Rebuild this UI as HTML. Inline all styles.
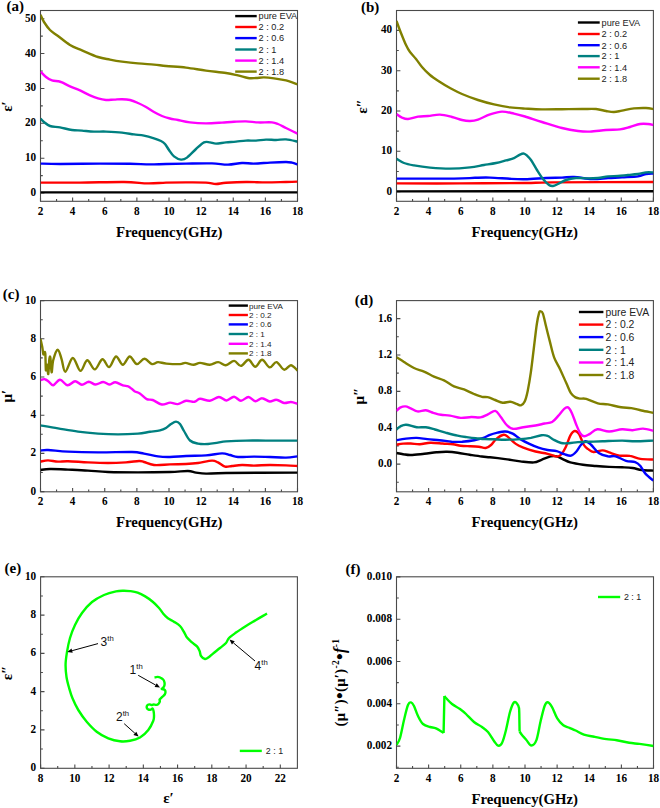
<!DOCTYPE html>
<html><head><meta charset="utf-8"><style>
html,body{margin:0;padding:0;background:#fff;}
svg{display:block;}
.tk{font-family:"Liberation Serif", serif;font-weight:bold;font-size:12.2px;fill:#000;}
.pl{font-family:"Liberation Serif", serif;font-weight:bold;fill:#000;}
.ax{font-family:"Liberation Serif", serif;font-weight:bold;font-size:14.8px;fill:#000;}
.lg{font-family:"Liberation Sans", sans-serif;fill:#222;}
.yl{font-family:"Liberation Serif", serif;font-weight:bold;fill:#000;}
.an{font-family:"Liberation Sans", sans-serif;fill:#111;}
</style></head>
<body><svg width="660" height="808" viewBox="0 0 660 808">
<rect x="40.5" y="10.5" width="257.00" height="190.80" fill="none" stroke="#4a4a4a" stroke-width="1.1"/>
<text transform="translate(40.50 214.50) scale(0.92,1)" text-anchor="middle" class="tk">2</text>
<text transform="translate(72.62 214.50) scale(0.92,1)" text-anchor="middle" class="tk">4</text>
<text transform="translate(104.75 214.50) scale(0.92,1)" text-anchor="middle" class="tk">6</text>
<text transform="translate(136.88 214.50) scale(0.92,1)" text-anchor="middle" class="tk">8</text>
<text transform="translate(169.00 214.50) scale(0.92,1)" text-anchor="middle" class="tk">10</text>
<text transform="translate(201.12 214.50) scale(0.92,1)" text-anchor="middle" class="tk">12</text>
<text transform="translate(233.25 214.50) scale(0.92,1)" text-anchor="middle" class="tk">14</text>
<text transform="translate(265.38 214.50) scale(0.92,1)" text-anchor="middle" class="tk">16</text>
<text transform="translate(297.50 214.50) scale(0.92,1)" text-anchor="middle" class="tk">18</text>
<text transform="translate(36.10 196.07) scale(0.92,1)" text-anchor="end" class="tk">0</text>
<text transform="translate(36.10 161.20) scale(0.92,1)" text-anchor="end" class="tk">10</text>
<text transform="translate(36.10 126.32) scale(0.92,1)" text-anchor="end" class="tk">20</text>
<text transform="translate(36.10 91.45) scale(0.92,1)" text-anchor="end" class="tk">30</text>
<text transform="translate(36.10 56.57) scale(0.92,1)" text-anchor="end" class="tk">40</text>
<text transform="translate(36.10 21.70) scale(0.92,1)" text-anchor="end" class="tk">50</text>
<path d="M40.50 201.3v-3.9 M56.56 201.3v-2.3 M72.62 201.3v-3.9 M88.69 201.3v-2.3 M104.75 201.3v-3.9 M120.81 201.3v-2.3 M136.88 201.3v-3.9 M152.94 201.3v-2.3 M169.00 201.3v-3.9 M185.06 201.3v-2.3 M201.12 201.3v-3.9 M217.19 201.3v-2.3 M233.25 201.3v-3.9 M249.31 201.3v-2.3 M265.38 201.3v-3.9 M281.44 201.3v-2.3 M297.50 201.3v-3.9 M40.5 193.07h3.9 M40.5 175.64h2.3 M40.5 158.20h3.9 M40.5 140.76h2.3 M40.5 123.32h3.9 M40.5 105.89h2.3 M40.5 88.45h3.9 M40.5 71.01h2.3 M40.5 53.57h3.9 M40.5 36.14h2.3 M40.5 18.70h3.9" stroke="#4a4a4a" stroke-width="1.1" fill="none"/>
<rect x="396.5" y="10.5" width="256.90" height="190.80" fill="none" stroke="#4a4a4a" stroke-width="1.1"/>
<text transform="translate(396.50 214.50) scale(0.92,1)" text-anchor="middle" class="tk">2</text>
<text transform="translate(428.61 214.50) scale(0.92,1)" text-anchor="middle" class="tk">4</text>
<text transform="translate(460.73 214.50) scale(0.92,1)" text-anchor="middle" class="tk">6</text>
<text transform="translate(492.84 214.50) scale(0.92,1)" text-anchor="middle" class="tk">8</text>
<text transform="translate(524.95 214.50) scale(0.92,1)" text-anchor="middle" class="tk">10</text>
<text transform="translate(557.06 214.50) scale(0.92,1)" text-anchor="middle" class="tk">12</text>
<text transform="translate(589.17 214.50) scale(0.92,1)" text-anchor="middle" class="tk">14</text>
<text transform="translate(621.29 214.50) scale(0.92,1)" text-anchor="middle" class="tk">16</text>
<text transform="translate(653.40 214.50) scale(0.92,1)" text-anchor="middle" class="tk">18</text>
<text transform="translate(392.10 194.60) scale(0.92,1)" text-anchor="end" class="tk">0</text>
<text transform="translate(392.10 154.30) scale(0.92,1)" text-anchor="end" class="tk">10</text>
<text transform="translate(392.10 114.00) scale(0.92,1)" text-anchor="end" class="tk">20</text>
<text transform="translate(392.10 73.70) scale(0.92,1)" text-anchor="end" class="tk">30</text>
<text transform="translate(392.10 33.40) scale(0.92,1)" text-anchor="end" class="tk">40</text>
<path d="M396.50 201.3v-3.9 M412.56 201.3v-2.3 M428.61 201.3v-3.9 M444.67 201.3v-2.3 M460.73 201.3v-3.9 M476.78 201.3v-2.3 M492.84 201.3v-3.9 M508.89 201.3v-2.3 M524.95 201.3v-3.9 M541.01 201.3v-2.3 M557.06 201.3v-3.9 M573.12 201.3v-2.3 M589.17 201.3v-3.9 M605.23 201.3v-2.3 M621.29 201.3v-3.9 M637.34 201.3v-2.3 M653.40 201.3v-3.9 M396.5 191.60h3.9 M396.5 171.45h2.3 M396.5 151.30h3.9 M396.5 131.15h2.3 M396.5 111.00h3.9 M396.5 90.85h2.3 M396.5 70.70h3.9 M396.5 50.55h2.3 M396.5 30.40h3.9" stroke="#4a4a4a" stroke-width="1.1" fill="none"/>
<rect x="40.5" y="300.6" width="257.00" height="191.20" fill="none" stroke="#4a4a4a" stroke-width="1.1"/>
<text transform="translate(40.50 505.00) scale(0.92,1)" text-anchor="middle" class="tk">2</text>
<text transform="translate(72.62 505.00) scale(0.92,1)" text-anchor="middle" class="tk">4</text>
<text transform="translate(104.75 505.00) scale(0.92,1)" text-anchor="middle" class="tk">6</text>
<text transform="translate(136.88 505.00) scale(0.92,1)" text-anchor="middle" class="tk">8</text>
<text transform="translate(169.00 505.00) scale(0.92,1)" text-anchor="middle" class="tk">10</text>
<text transform="translate(201.12 505.00) scale(0.92,1)" text-anchor="middle" class="tk">12</text>
<text transform="translate(233.25 505.00) scale(0.92,1)" text-anchor="middle" class="tk">14</text>
<text transform="translate(265.38 505.00) scale(0.92,1)" text-anchor="middle" class="tk">16</text>
<text transform="translate(297.50 505.00) scale(0.92,1)" text-anchor="middle" class="tk">18</text>
<text transform="translate(36.10 494.60) scale(0.92,1)" text-anchor="end" class="tk">0</text>
<text transform="translate(36.10 456.40) scale(0.92,1)" text-anchor="end" class="tk">2</text>
<text transform="translate(36.10 418.20) scale(0.92,1)" text-anchor="end" class="tk">4</text>
<text transform="translate(36.10 380.00) scale(0.92,1)" text-anchor="end" class="tk">6</text>
<text transform="translate(36.10 341.80) scale(0.92,1)" text-anchor="end" class="tk">8</text>
<text transform="translate(36.10 303.60) scale(0.92,1)" text-anchor="end" class="tk">10</text>
<path d="M40.50 491.8v-3.9 M56.56 491.8v-2.3 M72.62 491.8v-3.9 M88.69 491.8v-2.3 M104.75 491.8v-3.9 M120.81 491.8v-2.3 M136.88 491.8v-3.9 M152.94 491.8v-2.3 M169.00 491.8v-3.9 M185.06 491.8v-2.3 M201.12 491.8v-3.9 M217.19 491.8v-2.3 M233.25 491.8v-3.9 M249.31 491.8v-2.3 M265.38 491.8v-3.9 M281.44 491.8v-2.3 M297.50 491.8v-3.9 M40.5 491.60h3.9 M40.5 472.50h2.3 M40.5 453.40h3.9 M40.5 434.30h2.3 M40.5 415.20h3.9 M40.5 396.10h2.3 M40.5 377.00h3.9 M40.5 357.90h2.3 M40.5 338.80h3.9 M40.5 319.70h2.3 M40.5 300.60h3.9" stroke="#4a4a4a" stroke-width="1.1" fill="none"/>
<rect x="396.5" y="300.6" width="256.90" height="191.20" fill="none" stroke="#4a4a4a" stroke-width="1.1"/>
<text transform="translate(396.50 505.00) scale(0.92,1)" text-anchor="middle" class="tk">2</text>
<text transform="translate(428.61 505.00) scale(0.92,1)" text-anchor="middle" class="tk">4</text>
<text transform="translate(460.73 505.00) scale(0.92,1)" text-anchor="middle" class="tk">6</text>
<text transform="translate(492.84 505.00) scale(0.92,1)" text-anchor="middle" class="tk">8</text>
<text transform="translate(524.95 505.00) scale(0.92,1)" text-anchor="middle" class="tk">10</text>
<text transform="translate(557.06 505.00) scale(0.92,1)" text-anchor="middle" class="tk">12</text>
<text transform="translate(589.17 505.00) scale(0.92,1)" text-anchor="middle" class="tk">14</text>
<text transform="translate(621.29 505.00) scale(0.92,1)" text-anchor="middle" class="tk">16</text>
<text transform="translate(653.40 505.00) scale(0.92,1)" text-anchor="middle" class="tk">18</text>
<text transform="translate(392.10 467.10) scale(0.92,1)" text-anchor="end" class="tk">0.0</text>
<text transform="translate(392.10 430.73) scale(0.92,1)" text-anchor="end" class="tk">0.4</text>
<text transform="translate(392.10 394.35) scale(0.92,1)" text-anchor="end" class="tk">0.8</text>
<text transform="translate(392.10 357.98) scale(0.92,1)" text-anchor="end" class="tk">1.2</text>
<text transform="translate(392.10 321.60) scale(0.92,1)" text-anchor="end" class="tk">1.6</text>
<path d="M396.50 491.8v-3.9 M412.56 491.8v-2.3 M428.61 491.8v-3.9 M444.67 491.8v-2.3 M460.73 491.8v-3.9 M476.78 491.8v-2.3 M492.84 491.8v-3.9 M508.89 491.8v-2.3 M524.95 491.8v-3.9 M541.01 491.8v-2.3 M557.06 491.8v-3.9 M573.12 491.8v-2.3 M589.17 491.8v-3.9 M605.23 491.8v-2.3 M621.29 491.8v-3.9 M637.34 491.8v-2.3 M653.40 491.8v-3.9 M396.5 482.29h2.3 M396.5 464.10h3.9 M396.5 445.91h2.3 M396.5 427.73h3.9 M396.5 409.54h2.3 M396.5 391.35h3.9 M396.5 373.16h2.3 M396.5 354.98h3.9 M396.5 336.79h2.3 M396.5 318.60h3.9" stroke="#4a4a4a" stroke-width="1.1" fill="none"/>
<rect x="40.6" y="576.8" width="256.80" height="191.50" fill="none" stroke="#4a4a4a" stroke-width="1.1"/>
<text transform="translate(40.60 781.50) scale(0.92,1)" text-anchor="middle" class="tk">8</text>
<text transform="translate(74.84 781.50) scale(0.92,1)" text-anchor="middle" class="tk">10</text>
<text transform="translate(109.09 781.50) scale(0.92,1)" text-anchor="middle" class="tk">12</text>
<text transform="translate(143.33 781.50) scale(0.92,1)" text-anchor="middle" class="tk">14</text>
<text transform="translate(177.57 781.50) scale(0.92,1)" text-anchor="middle" class="tk">16</text>
<text transform="translate(211.81 781.50) scale(0.92,1)" text-anchor="middle" class="tk">18</text>
<text transform="translate(246.06 781.50) scale(0.92,1)" text-anchor="middle" class="tk">20</text>
<text transform="translate(280.30 781.50) scale(0.92,1)" text-anchor="middle" class="tk">22</text>
<text transform="translate(36.20 771.20) scale(0.92,1)" text-anchor="end" class="tk">0</text>
<text transform="translate(36.20 732.92) scale(0.92,1)" text-anchor="end" class="tk">2</text>
<text transform="translate(36.20 694.64) scale(0.92,1)" text-anchor="end" class="tk">4</text>
<text transform="translate(36.20 656.36) scale(0.92,1)" text-anchor="end" class="tk">6</text>
<text transform="translate(36.20 618.08) scale(0.92,1)" text-anchor="end" class="tk">8</text>
<text transform="translate(36.20 579.80) scale(0.92,1)" text-anchor="end" class="tk">10</text>
<path d="M40.60 768.3v-3.9 M57.72 768.3v-2.3 M74.84 768.3v-3.9 M91.96 768.3v-2.3 M109.09 768.3v-3.9 M126.21 768.3v-2.3 M143.33 768.3v-3.9 M160.45 768.3v-2.3 M177.57 768.3v-3.9 M194.69 768.3v-2.3 M211.81 768.3v-3.9 M228.94 768.3v-2.3 M246.06 768.3v-3.9 M263.18 768.3v-2.3 M280.30 768.3v-3.9 M40.6 768.20h3.9 M40.6 749.06h2.3 M40.6 729.92h3.9 M40.6 710.78h2.3 M40.6 691.64h3.9 M40.6 672.50h2.3 M40.6 653.36h3.9 M40.6 634.22h2.3 M40.6 615.08h3.9 M40.6 595.94h2.3 M40.6 576.80h3.9" stroke="#4a4a4a" stroke-width="1.1" fill="none"/>
<rect x="396.5" y="576.8" width="257.00" height="191.50" fill="none" stroke="#4a4a4a" stroke-width="1.1"/>
<text transform="translate(396.50 781.50) scale(0.92,1)" text-anchor="middle" class="tk">2</text>
<text transform="translate(428.62 781.50) scale(0.92,1)" text-anchor="middle" class="tk">4</text>
<text transform="translate(460.75 781.50) scale(0.92,1)" text-anchor="middle" class="tk">6</text>
<text transform="translate(492.88 781.50) scale(0.92,1)" text-anchor="middle" class="tk">8</text>
<text transform="translate(525.00 781.50) scale(0.92,1)" text-anchor="middle" class="tk">10</text>
<text transform="translate(557.12 781.50) scale(0.92,1)" text-anchor="middle" class="tk">12</text>
<text transform="translate(589.25 781.50) scale(0.92,1)" text-anchor="middle" class="tk">14</text>
<text transform="translate(621.38 781.50) scale(0.92,1)" text-anchor="middle" class="tk">16</text>
<text transform="translate(653.50 781.50) scale(0.92,1)" text-anchor="middle" class="tk">18</text>
<text transform="translate(392.10 749.10) scale(0.92,1)" text-anchor="end" class="tk">0.002</text>
<text transform="translate(392.10 706.80) scale(0.92,1)" text-anchor="end" class="tk">0.004</text>
<text transform="translate(392.10 664.50) scale(0.92,1)" text-anchor="end" class="tk">0.006</text>
<text transform="translate(392.10 622.20) scale(0.92,1)" text-anchor="end" class="tk">0.008</text>
<text transform="translate(392.10 579.90) scale(0.92,1)" text-anchor="end" class="tk">0.010</text>
<path d="M396.50 768.3v-3.9 M412.56 768.3v-2.3 M428.62 768.3v-3.9 M444.69 768.3v-2.3 M460.75 768.3v-3.9 M476.81 768.3v-2.3 M492.88 768.3v-3.9 M508.94 768.3v-2.3 M525.00 768.3v-3.9 M541.06 768.3v-2.3 M557.12 768.3v-3.9 M573.19 768.3v-2.3 M589.25 768.3v-3.9 M605.31 768.3v-2.3 M621.38 768.3v-3.9 M637.44 768.3v-2.3 M653.50 768.3v-3.9 M396.5 767.25h2.3 M396.5 746.10h3.9 M396.5 724.95h2.3 M396.5 703.80h3.9 M396.5 682.65h2.3 M396.5 661.50h3.9 M396.5 640.35h2.3 M396.5 619.20h3.9 M396.5 598.05h2.3 M396.5 576.90h3.9" stroke="#4a4a4a" stroke-width="1.1" fill="none"/>
<text x="6.6" y="10.7" class="pl" style="font-size:15px">(a)</text>
<text x="361" y="12.3" class="pl" style="font-size:15px">(b)</text>
<text x="2.8" y="299.2" class="pl" style="font-size:15px">(c)</text>
<text x="354.8" y="305.3" class="pl" style="font-size:15px">(d)</text>
<text x="4.6" y="573.2" class="pl" style="font-size:15px">(e)</text>
<text x="345.4" y="573.5" class="pl" style="font-size:15px">(f)</text>
<text x="169.2" y="237.3" text-anchor="middle" class="ax">Frequency(GHz)</text>
<text x="524.7" y="237.3" text-anchor="middle" class="ax">Frequency(GHz)</text>
<text x="169.2" y="527.3" text-anchor="middle" class="ax">Frequency(GHz)</text>
<text x="524.7" y="527.3" text-anchor="middle" class="ax">Frequency(GHz)</text>
<text x="524.7" y="803.5" text-anchor="middle" class="ax">Frequency(GHz)</text>
<defs>
<clipPath id="cpa"><rect x="40.5" y="10.5" width="257.00" height="190.80"/></clipPath>
<clipPath id="cpb"><rect x="396.5" y="10.5" width="256.90" height="190.80"/></clipPath>
<clipPath id="cpc"><rect x="40.5" y="300.6" width="257.00" height="191.20"/></clipPath>
<clipPath id="cpd"><rect x="396.5" y="300.6" width="256.90" height="191.20"/></clipPath>
<clipPath id="cpe"><rect x="40.6" y="576.8" width="256.80" height="191.50"/></clipPath>
<clipPath id="cpf"><rect x="396.5" y="576.8" width="257.00" height="191.50"/></clipPath>
</defs>
<path d="M40.5 192.4C83.3 192.4 254.7 192.4 297.5 192.4" stroke="#000000" stroke-width="2.4" fill="none" stroke-linejoin="round" stroke-linecap="butt" clip-path="url(#cpa)"/>
<path d="M40.5 182.6C47.1 182.6 66.1 182.7 80.0 182.6C93.9 182.5 112.7 181.9 124.0 182.0C135.3 182.1 141.0 183.3 148.0 183.4C155.0 183.5 159.7 182.8 166.0 182.6C172.3 182.4 179.3 182.4 186.0 182.4C192.7 182.4 201.0 182.3 206.0 182.6C211.0 182.9 212.7 184.0 216.0 184.0C219.3 184.0 221.0 183.1 226.0 182.8C231.0 182.5 239.3 182.1 246.0 182.0C252.7 181.9 259.3 182.4 266.0 182.4C272.7 182.4 280.8 182.1 286.0 182.0C291.2 181.9 295.6 181.7 297.5 181.6" stroke="#ff0000" stroke-width="2.4" fill="none" stroke-linejoin="round" stroke-linecap="butt" clip-path="url(#cpa)"/>
<path d="M40.5 163.6C43.8 163.7 50.1 164.0 60.0 164.0C69.9 164.0 88.3 163.6 100.0 163.6C111.7 163.6 121.7 163.7 130.0 163.8C138.3 163.9 144.0 164.4 150.0 164.4C156.0 164.4 160.0 164.1 166.0 164.0C172.0 163.9 178.3 163.7 186.0 163.6C193.7 163.5 205.0 163.2 212.0 163.4C219.0 163.6 223.0 164.7 228.0 164.6C233.0 164.5 237.7 163.2 242.0 163.0C246.3 162.8 249.3 163.7 254.0 163.6C258.7 163.5 264.7 162.9 270.0 162.6C275.3 162.3 282.3 162.0 286.0 162.0C289.7 162.0 290.1 162.2 292.0 162.6C293.9 163.0 296.6 164.1 297.5 164.4" stroke="#0000ff" stroke-width="2.4" fill="none" stroke-linejoin="round" stroke-linecap="butt" clip-path="url(#cpa)"/>
<path d="M40.5 118.5C41.1 119.1 42.4 120.8 44.0 122.0C45.6 123.2 47.3 125.1 50.0 126.0C52.7 126.9 56.3 126.7 60.0 127.4C63.7 128.1 68.3 129.5 72.0 130.0C75.7 130.5 78.3 130.3 82.0 130.6C85.7 130.9 90.0 131.4 94.0 131.6C98.0 131.8 101.3 131.4 106.0 131.6C110.7 131.8 117.3 132.1 122.0 132.6C126.7 133.1 130.3 133.9 134.0 134.4C137.7 134.9 140.7 134.9 144.0 135.6C147.3 136.3 151.2 137.5 154.0 138.4C156.8 139.3 159.2 140.1 161.0 141.0C162.8 141.9 163.7 142.5 165.0 144.0C166.3 145.5 167.5 147.9 169.0 150.0C170.5 152.1 172.0 154.8 174.0 156.4C176.0 158.0 178.8 159.4 181.0 159.6C183.2 159.8 184.5 159.4 187.0 157.6C189.5 155.8 193.2 151.5 196.0 149.0C198.8 146.5 201.7 143.5 204.0 142.4C206.3 141.3 208.0 142.2 210.0 142.4C212.0 142.6 213.3 143.6 216.0 143.6C218.7 143.6 222.7 142.7 226.0 142.4C229.3 142.1 232.7 141.9 236.0 141.6C239.3 141.3 242.7 140.8 246.0 140.6C249.3 140.4 252.7 140.8 256.0 140.6C259.3 140.4 262.7 139.7 266.0 139.6C269.3 139.5 272.7 140.0 276.0 140.0C279.3 140.0 282.4 139.1 286.0 139.4C289.6 139.7 295.6 141.2 297.5 141.6" stroke="#008080" stroke-width="2.4" fill="none" stroke-linejoin="round" stroke-linecap="butt" clip-path="url(#cpa)"/>
<path d="M40.5 71.5C41.4 72.4 44.1 75.5 46.0 77.0C47.9 78.5 50.0 79.7 52.0 80.4C54.0 81.1 56.3 80.9 58.0 81.2C59.7 81.5 60.0 81.5 62.0 82.4C64.0 83.3 67.0 85.1 70.0 86.4C73.0 87.7 76.7 88.9 80.0 90.4C83.3 91.9 87.0 94.1 90.0 95.4C93.0 96.7 95.3 97.6 98.0 98.4C100.7 99.2 103.3 99.8 106.0 100.0C108.7 100.2 111.3 99.7 114.0 99.6C116.7 99.5 119.3 99.1 122.0 99.2C124.7 99.3 127.3 99.4 130.0 100.0C132.7 100.6 135.3 101.8 138.0 103.0C140.7 104.2 143.3 105.5 146.0 107.0C148.7 108.5 151.3 110.5 154.0 112.0C156.7 113.5 159.3 114.9 162.0 116.0C164.7 117.1 167.3 117.8 170.0 118.5C172.7 119.2 174.7 119.3 178.0 120.0C181.3 120.7 185.3 121.8 190.0 122.4C194.7 123.0 200.7 123.4 206.0 123.4C211.3 123.4 217.3 122.9 222.0 122.6C226.7 122.3 230.0 122.0 234.0 121.8C238.0 121.6 242.0 121.3 246.0 121.4C250.0 121.5 253.7 122.2 258.0 122.4C262.3 122.6 268.7 122.1 272.0 122.4C275.3 122.7 275.7 123.1 278.0 124.0C280.3 124.9 282.8 126.4 286.0 128.0C289.2 129.6 295.6 132.7 297.5 133.6" stroke="#ff00ff" stroke-width="2.4" fill="none" stroke-linejoin="round" stroke-linecap="butt" clip-path="url(#cpa)"/>
<path d="M40.5 14.8C41.1 16.0 42.4 19.5 44.0 22.0C45.6 24.5 47.7 27.7 50.0 30.0C52.3 32.3 54.7 33.5 58.0 36.0C61.3 38.5 66.0 42.6 70.0 45.0C74.0 47.4 77.3 48.4 82.0 50.4C86.7 52.4 93.3 55.5 98.0 57.0C102.7 58.5 106.0 58.8 110.0 59.6C114.0 60.4 117.3 61.0 122.0 61.6C126.7 62.2 132.7 62.9 138.0 63.4C143.3 63.9 149.3 64.2 154.0 64.6C158.7 65.0 160.7 65.5 166.0 66.0C171.3 66.5 179.3 66.8 186.0 67.6C192.7 68.4 199.3 69.7 206.0 70.6C212.7 71.5 220.7 72.2 226.0 73.0C231.3 73.8 234.3 74.6 238.0 75.4C241.7 76.2 245.0 77.6 248.0 78.0C251.0 78.4 253.3 78.1 256.0 78.0C258.7 77.9 261.0 77.3 264.0 77.4C267.0 77.5 270.3 77.9 274.0 78.4C277.7 78.9 282.1 79.4 286.0 80.4C289.9 81.4 295.6 83.7 297.5 84.4" stroke="#808000" stroke-width="2.4" fill="none" stroke-linejoin="round" stroke-linecap="butt" clip-path="url(#cpa)"/>
<path d="M396.5 191.4C439.3 191.4 610.6 191.2 653.4 191.2" stroke="#000000" stroke-width="2.4" fill="none" stroke-linejoin="round" stroke-linecap="butt" clip-path="url(#cpb)"/>
<path d="M396.5 183.4C407.1 183.4 438.6 183.5 460.0 183.4C481.4 183.3 509.7 183.2 525.0 183.0C540.3 182.8 530.6 182.6 552.0 182.4C573.4 182.2 636.5 182.1 653.4 182.0" stroke="#ff0000" stroke-width="2.4" fill="none" stroke-linejoin="round" stroke-linecap="butt" clip-path="url(#cpb)"/>
<path d="M396.5 178.6C406.1 178.6 440.9 178.7 454.0 178.6C467.1 178.5 469.0 178.0 475.0 177.8C481.0 177.6 484.2 177.4 490.0 177.6C495.8 177.8 504.2 178.5 510.0 178.8C515.8 179.1 519.0 179.3 525.0 179.2C531.0 179.1 539.8 178.3 546.0 178.0C552.2 177.7 557.3 177.8 562.0 177.6C566.7 177.4 569.0 176.8 574.0 177.0C579.0 177.2 586.3 178.8 592.0 179.0C597.7 179.2 603.0 178.3 608.0 178.0C613.0 177.7 617.0 177.7 622.0 177.4C627.0 177.1 634.0 177.0 638.0 176.4C642.0 175.8 643.4 174.5 646.0 174.0C648.6 173.5 652.2 173.7 653.4 173.6" stroke="#0000ff" stroke-width="2.4" fill="none" stroke-linejoin="round" stroke-linecap="butt" clip-path="url(#cpb)"/>
<path d="M396.5 158.8C397.8 159.5 401.1 161.9 404.0 163.0C406.9 164.1 409.7 164.6 414.0 165.4C418.3 166.2 424.0 167.1 430.0 167.6C436.0 168.1 443.3 168.6 450.0 168.6C456.7 168.6 464.3 168.0 470.0 167.4C475.7 166.8 479.7 165.7 484.0 165.0C488.3 164.3 492.3 163.8 496.0 163.0C499.7 162.2 503.0 161.2 506.0 160.4C509.0 159.6 511.7 159.2 514.0 158.2C516.3 157.2 518.3 155.4 520.0 154.6C521.7 153.8 522.8 153.4 524.0 153.6C525.2 153.8 525.8 154.4 527.0 155.5C528.2 156.6 529.3 157.6 531.0 160.0C532.7 162.4 535.0 166.8 537.0 170.0C539.0 173.2 541.0 176.5 543.0 179.0C545.0 181.5 547.3 183.8 549.0 185.0C550.7 186.2 551.5 186.2 553.0 186.0C554.5 185.8 555.8 185.0 558.0 184.0C560.2 183.0 563.0 181.0 566.0 180.0C569.0 179.0 572.3 178.3 576.0 178.0C579.7 177.7 584.3 178.4 588.0 178.4C591.7 178.4 594.7 178.3 598.0 178.0C601.3 177.7 604.7 176.7 608.0 176.4C611.3 176.1 614.7 176.2 618.0 176.0C621.3 175.8 624.7 175.3 628.0 175.0C631.3 174.7 635.0 174.4 638.0 174.0C641.0 173.6 643.4 172.7 646.0 172.4C648.6 172.1 652.2 172.4 653.4 172.4" stroke="#008080" stroke-width="2.4" fill="none" stroke-linejoin="round" stroke-linecap="butt" clip-path="url(#cpb)"/>
<path d="M396.5 114.0C397.4 114.6 400.1 116.8 402.0 117.6C403.9 118.4 405.3 119.2 408.0 119.0C410.7 118.8 414.7 117.1 418.0 116.6C421.3 116.1 424.3 116.3 428.0 116.0C431.7 115.7 436.0 114.4 440.0 114.6C444.0 114.8 448.3 116.1 452.0 117.0C455.7 117.9 459.0 119.3 462.0 120.0C465.0 120.7 467.3 121.1 470.0 121.0C472.7 120.9 474.7 120.7 478.0 119.6C481.3 118.5 486.0 115.7 490.0 114.4C494.0 113.1 498.0 111.7 502.0 111.6C506.0 111.5 510.2 112.8 514.0 113.6C517.8 114.4 520.3 115.1 525.0 116.5C529.7 117.9 535.8 120.1 542.0 122.0C548.2 123.9 556.0 126.5 562.0 128.0C568.0 129.5 573.3 130.4 578.0 131.0C582.7 131.6 585.3 131.8 590.0 131.6C594.7 131.4 601.0 130.4 606.0 130.0C611.0 129.6 616.0 129.9 620.0 129.4C624.0 128.9 626.7 127.9 630.0 127.0C633.3 126.1 637.0 124.5 640.0 124.0C643.0 123.5 645.8 123.8 648.0 124.0C650.2 124.2 652.5 124.8 653.4 125.0" stroke="#ff00ff" stroke-width="2.4" fill="none" stroke-linejoin="round" stroke-linecap="butt" clip-path="url(#cpb)"/>
<path d="M396.5 21.0C397.1 22.6 398.4 26.5 400.0 30.5C401.6 34.5 404.3 41.4 406.0 45.0C407.7 48.6 408.3 49.7 410.0 52.0C411.7 54.3 414.0 56.5 416.0 59.0C418.0 61.5 419.7 64.3 422.0 67.0C424.3 69.7 427.0 72.5 430.0 75.0C433.0 77.5 436.7 79.8 440.0 82.0C443.3 84.2 446.3 86.0 450.0 88.0C453.7 90.0 457.3 92.0 462.0 94.0C466.7 96.0 472.7 98.3 478.0 100.0C483.3 101.7 488.7 103.2 494.0 104.4C499.3 105.6 504.8 106.7 510.0 107.4C515.2 108.1 519.7 108.3 525.0 108.6C530.3 108.9 535.8 109.3 542.0 109.4C548.2 109.5 555.3 109.3 562.0 109.2C568.7 109.1 576.3 109.0 582.0 109.0C587.7 109.0 592.0 108.7 596.0 109.0C600.0 109.3 603.0 110.5 606.0 111.0C609.0 111.5 611.3 112.1 614.0 112.0C616.7 111.9 618.7 111.2 622.0 110.6C625.3 110.0 630.0 108.8 634.0 108.4C638.0 108.0 642.8 107.9 646.0 108.0C649.2 108.1 652.2 108.8 653.4 109.0" stroke="#808000" stroke-width="2.4" fill="none" stroke-linejoin="round" stroke-linecap="butt" clip-path="url(#cpb)"/>
<path d="M40.5 470.0C42.1 469.8 45.4 469.1 50.0 469.0C54.6 468.9 61.7 469.3 68.0 469.6C74.3 469.9 81.3 470.2 88.0 470.6C94.7 471.0 99.7 471.7 108.0 472.0C116.3 472.3 127.7 472.4 138.0 472.4C148.3 472.4 161.7 472.2 170.0 472.0C178.3 471.8 183.7 470.9 188.0 471.0C192.3 471.1 193.0 472.2 196.0 472.6C199.0 473.0 201.0 473.5 206.0 473.6C211.0 473.7 210.8 473.2 226.0 473.0C241.2 472.8 285.6 472.7 297.5 472.6" stroke="#000000" stroke-width="2.4" fill="none" stroke-linejoin="round" stroke-linecap="butt" clip-path="url(#cpc)"/>
<path d="M40.5 461.6C41.8 461.4 45.1 460.4 48.0 460.4C50.9 460.4 54.7 461.5 58.0 461.6C61.3 461.7 63.0 461.1 68.0 461.2C73.0 461.3 81.3 462.1 88.0 462.4C94.7 462.7 101.7 463.0 108.0 463.0C114.3 463.0 120.8 462.7 126.0 462.4C131.2 462.1 136.0 461.1 139.0 461.0C142.0 460.9 141.5 461.3 144.0 462.0C146.5 462.7 149.7 464.6 154.0 465.0C158.3 465.4 164.7 464.6 170.0 464.4C175.3 464.2 181.3 464.2 186.0 464.0C190.7 463.8 193.7 463.6 198.0 463.0C202.3 462.4 208.7 460.7 212.0 460.6C215.3 460.5 215.8 461.4 218.0 462.4C220.2 463.4 222.7 466.0 225.0 466.6C227.3 467.2 229.2 466.3 232.0 466.0C234.8 465.7 238.3 465.1 242.0 465.0C245.7 464.9 249.3 465.6 254.0 465.6C258.7 465.6 264.7 465.0 270.0 465.0C275.3 465.0 281.4 465.2 286.0 465.4C290.6 465.6 295.6 465.9 297.5 466.0" stroke="#ff0000" stroke-width="2.4" fill="none" stroke-linejoin="round" stroke-linecap="butt" clip-path="url(#cpc)"/>
<path d="M40.5 450.6C41.8 450.5 43.4 449.8 48.0 450.0C52.6 450.2 59.7 451.2 68.0 451.6C76.3 452.0 87.3 452.3 98.0 452.4C108.7 452.5 124.3 451.8 132.0 452.0C139.7 452.2 139.7 452.9 144.0 453.6C148.3 454.3 153.7 455.8 158.0 456.4C162.3 457.0 165.3 457.1 170.0 457.0C174.7 456.9 180.0 456.3 186.0 456.0C192.0 455.7 200.0 455.8 206.0 455.4C212.0 455.0 218.0 453.5 222.0 453.4C226.0 453.3 227.3 454.4 230.0 455.0C232.7 455.6 234.0 456.7 238.0 457.0C242.0 457.3 248.7 456.6 254.0 456.6C259.3 456.6 264.7 456.8 270.0 457.0C275.3 457.2 281.4 457.7 286.0 457.6C290.6 457.5 295.6 456.6 297.5 456.4" stroke="#0000ff" stroke-width="2.4" fill="none" stroke-linejoin="round" stroke-linecap="butt" clip-path="url(#cpc)"/>
<path d="M40.5 425.4C43.4 425.9 51.8 427.4 58.0 428.4C64.2 429.4 71.3 430.7 78.0 431.6C84.7 432.5 91.3 433.1 98.0 433.6C104.7 434.1 111.3 434.4 118.0 434.4C124.7 434.4 132.7 434.0 138.0 433.6C143.3 433.2 146.3 432.3 150.0 431.8C153.7 431.3 157.3 431.0 160.0 430.4C162.7 429.8 164.2 429.1 166.0 428.0C167.8 426.9 169.3 425.1 171.0 424.0C172.7 422.9 174.5 421.6 176.0 421.6C177.5 421.6 178.7 422.4 180.0 424.0C181.3 425.6 182.3 428.2 184.0 431.0C185.7 433.8 187.7 438.4 190.0 440.5C192.3 442.6 195.0 443.0 198.0 443.6C201.0 444.2 204.7 444.2 208.0 444.0C211.3 443.8 215.0 443.0 218.0 442.6C221.0 442.2 221.3 441.7 226.0 441.4C230.7 441.1 239.3 440.7 246.0 440.6C252.7 440.5 257.4 440.6 266.0 440.6C274.6 440.6 292.2 440.6 297.5 440.6" stroke="#008080" stroke-width="2.4" fill="none" stroke-linejoin="round" stroke-linecap="butt" clip-path="url(#cpc)"/>
<path d="M40.5 380.0C41.2 379.9 43.4 378.9 44.8 379.2C46.1 379.4 47.2 380.5 48.6 381.5C50.0 382.5 51.3 385.6 53.2 385.3C55.1 385.0 57.6 379.7 60.0 379.7C62.4 379.7 65.0 385.1 67.5 385.3C70.0 385.6 72.7 381.3 75.1 381.2C77.5 381.1 79.6 384.7 81.9 384.8C84.2 384.9 86.5 381.9 88.8 381.8C91.1 381.8 93.2 384.5 95.6 384.5C98.0 384.5 100.9 382.0 103.2 382.0C105.5 382.0 107.2 384.4 109.2 384.5C111.2 384.6 113.0 382.2 115.3 382.3C117.6 382.4 120.8 384.7 122.8 385.3C124.8 385.9 126.2 385.9 127.4 386.2C128.6 386.5 128.8 386.6 130.0 387.4C131.2 388.2 132.9 390.2 134.5 391.2C136.1 392.2 137.8 392.2 139.8 393.5C141.8 394.8 144.5 398.0 146.7 399.1C148.8 400.2 150.2 399.1 152.7 400.0C155.2 400.9 158.9 404.1 161.8 404.5C164.7 404.9 167.5 402.7 170.2 402.6C172.8 402.5 175.0 404.4 177.7 404.1C180.3 403.8 183.3 401.2 186.1 400.8C188.9 400.4 192.1 402.1 194.4 401.8C196.7 401.5 197.4 399.0 200.0 398.8C202.6 398.6 206.7 401.1 209.8 400.8C213.0 400.5 216.1 397.1 218.9 397.0C221.7 396.9 224.0 400.6 226.5 400.5C229.0 400.4 231.7 396.6 234.1 396.7C236.5 396.8 238.5 400.8 240.9 400.8C243.3 400.9 246.1 396.9 248.5 397.0C250.9 397.1 253.0 401.0 255.3 401.2C257.6 401.4 259.7 398.1 262.1 398.2C264.5 398.2 267.3 401.2 269.7 401.5C272.1 401.8 274.1 399.4 276.5 399.7C278.9 399.9 281.7 402.6 284.1 403.0C286.5 403.4 288.7 401.9 290.9 402.0C293.1 402.1 296.4 403.5 297.5 403.8" stroke="#ff00ff" stroke-width="2.4" fill="none" stroke-linejoin="round" stroke-linecap="butt" clip-path="url(#cpc)"/>
<path d="M40.5 339.0C40.8 340.3 41.7 344.2 42.2 346.7C42.7 349.2 43.0 353.2 43.3 354.2C43.6 355.2 43.7 352.8 44.0 352.7C44.3 352.6 45.0 350.6 45.3 353.5C45.6 356.4 45.6 368.3 45.9 370.2C46.2 372.1 46.7 364.2 47.1 364.8C47.5 365.4 47.9 375.0 48.3 374.0C48.7 373.0 49.0 361.5 49.4 358.8C49.8 356.1 50.0 355.7 50.4 358.0C50.8 360.3 51.1 372.0 51.6 372.4C52.1 372.8 52.2 364.1 53.2 360.3C54.2 356.5 56.3 349.9 57.7 349.7C59.1 349.4 60.2 355.1 61.5 358.8C62.8 362.5 63.4 371.8 65.3 371.7C67.2 371.6 70.3 358.1 72.8 358.0C75.3 357.9 78.0 370.5 80.4 370.9C82.8 371.3 84.8 360.6 87.2 360.3C89.6 360.1 92.3 369.6 94.8 369.4C97.3 369.2 100.0 359.6 102.4 359.2C104.8 358.8 106.9 367.6 109.2 367.1C111.5 366.7 113.7 356.9 116.0 356.5C118.3 356.1 120.5 364.8 122.8 364.8C125.1 364.8 127.4 356.6 129.7 356.5C132.0 356.4 134.4 363.7 136.8 364.1C139.2 364.5 141.9 358.8 144.4 358.8C146.9 358.8 149.7 363.6 152.0 364.1C154.3 364.7 155.6 362.2 158.0 362.1C160.4 362.0 162.7 363.3 166.4 363.6C170.1 363.9 176.8 364.2 180.0 364.1C183.2 364.0 183.0 362.8 185.3 362.9C187.6 363.0 191.2 364.8 193.6 364.8C196.0 364.8 197.3 362.9 200.0 362.9C202.7 362.9 206.8 364.8 209.8 364.7C212.8 364.6 215.5 362.0 218.2 362.1C220.9 362.2 223.2 365.4 225.8 365.2C228.5 365.0 231.6 360.8 234.1 360.9C236.6 361.0 238.5 366.1 240.9 365.9C243.3 365.7 246.1 359.7 248.5 359.8C250.9 359.9 253.0 366.7 255.3 366.7C257.6 366.7 259.7 359.7 262.1 359.8C264.5 359.9 267.3 367.0 269.7 367.4C272.1 367.8 274.1 361.7 276.5 362.1C278.9 362.5 281.7 369.2 284.1 369.7C286.5 370.2 288.7 365.1 290.9 365.2C293.1 365.3 296.4 369.6 297.5 370.5" stroke="#808000" stroke-width="2.4" fill="none" stroke-linejoin="round" stroke-linecap="butt" clip-path="url(#cpc)"/>
<path d="M396.5 453.0C397.6 453.2 400.7 453.9 403.1 454.2C405.5 454.5 407.2 455.1 410.7 455.0C414.2 454.9 420.0 454.2 424.3 453.8C428.6 453.4 432.6 452.6 436.4 452.3C440.2 452.0 443.5 451.7 447.0 451.8C450.5 451.9 453.8 452.2 457.6 452.7C461.4 453.2 465.8 454.2 469.8 454.8C473.9 455.4 478.5 456.1 481.9 456.5C485.3 456.9 486.1 456.9 490.0 457.3C493.9 457.7 500.1 458.4 505.2 459.1C510.2 459.8 515.5 460.8 520.3 461.4C525.1 461.9 530.4 462.7 533.9 462.4C537.4 462.1 538.7 460.8 541.5 459.8C544.3 458.8 548.1 457.0 550.6 456.4C553.1 455.8 554.7 455.9 556.7 456.4C558.7 456.8 560.4 458.1 562.7 459.1C565.0 460.1 566.9 461.5 570.3 462.4C573.7 463.3 578.7 464.1 583.0 464.7C587.3 465.3 591.8 465.6 596.1 466.0C600.5 466.4 604.8 466.7 609.1 466.9C613.4 467.1 618.2 467.1 622.1 467.3C626.0 467.5 629.2 467.6 632.5 468.0C635.8 468.4 638.2 469.6 641.7 470.0C645.2 470.4 651.5 470.5 653.4 470.6" stroke="#000000" stroke-width="2.4" fill="none" stroke-linejoin="round" stroke-linecap="butt" clip-path="url(#cpd)"/>
<path d="M396.5 444.7C397.6 444.5 400.7 443.8 403.1 443.6C405.5 443.4 407.9 443.4 410.7 443.5C413.5 443.6 416.5 444.3 419.8 444.2C423.1 444.1 426.6 442.8 430.4 442.7C434.2 442.6 438.7 443.2 442.5 443.5C446.3 443.8 450.1 443.8 453.1 444.2C456.1 444.6 457.9 445.5 460.7 445.8C463.5 446.1 466.8 446.1 469.8 446.2C472.8 446.3 476.2 446.4 478.8 446.7C481.4 447.0 483.7 448.3 485.7 448.0C487.7 447.7 489.3 446.5 491.0 445.0C492.7 443.5 494.0 440.8 496.1 439.1C498.2 437.4 501.6 435.1 503.6 434.8C505.6 434.5 506.2 435.6 508.2 437.1C510.2 438.6 513.3 442.1 515.8 443.9C518.3 445.7 520.0 446.4 523.3 447.7C526.6 449.0 531.5 450.5 535.5 451.5C539.5 452.5 544.1 452.9 547.6 453.8C551.1 454.7 554.4 456.5 556.7 456.6C559.0 456.7 559.7 456.1 561.2 454.5C562.7 452.9 564.3 450.1 565.8 447.0C567.3 443.9 568.8 438.3 570.3 435.6C571.8 432.9 573.3 431.2 574.8 431.0C576.3 430.8 577.6 431.8 579.1 434.1C580.6 436.4 582.4 442.5 583.9 445.0C585.4 447.5 586.6 447.9 588.2 449.1C589.8 450.3 591.1 451.8 593.5 452.0C595.9 452.2 600.0 450.3 602.6 450.4C605.2 450.5 606.3 451.5 609.1 452.4C611.9 453.3 616.0 455.0 619.5 455.6C623.0 456.2 626.5 455.3 630.0 455.9C633.5 456.4 636.5 458.3 640.4 458.9C644.3 459.5 651.2 459.4 653.4 459.5" stroke="#ff0000" stroke-width="2.4" fill="none" stroke-linejoin="round" stroke-linecap="butt" clip-path="url(#cpd)"/>
<path d="M396.5 440.2C398.1 439.9 402.7 439.0 406.1 438.6C409.5 438.2 413.2 437.8 416.7 437.9C420.2 438.0 423.5 438.7 427.3 439.1C431.1 439.5 435.4 439.8 439.5 440.2C443.6 440.6 447.8 441.4 451.6 441.7C455.4 441.9 458.4 441.9 462.2 441.7C466.0 441.4 470.8 440.8 474.3 440.2C477.8 439.6 480.8 438.8 483.4 437.9C486.0 437.0 487.6 435.7 490.0 434.8C492.4 433.9 495.1 433.2 497.6 432.6C500.1 432.1 502.7 431.3 505.2 431.5C507.7 431.7 510.2 432.3 512.7 433.6C515.2 434.9 517.5 437.4 520.3 439.1C523.1 440.8 526.4 442.5 529.4 443.9C532.4 445.3 535.5 446.7 538.5 447.7C541.5 448.7 544.6 449.4 547.6 450.0C550.6 450.6 553.9 450.5 556.7 451.2C559.5 451.9 561.8 453.5 564.2 454.2C566.6 454.9 569.1 456.1 571.1 455.6C573.1 455.2 574.8 453.3 576.4 451.5C578.0 449.7 579.4 446.7 580.9 445.0C582.4 443.3 583.9 441.4 585.5 441.3C587.1 441.2 588.6 442.6 590.8 444.5C593.0 446.4 595.9 451.0 598.7 453.0C601.5 455.0 605.0 455.8 607.8 456.3C610.6 456.9 612.6 455.6 615.6 456.3C618.6 457.1 622.7 459.8 626.0 460.8C629.3 461.8 632.8 461.2 635.2 462.1C637.6 463.0 638.7 464.0 640.4 466.0C642.1 468.0 643.4 471.5 645.6 473.9C647.8 476.3 652.1 479.5 653.4 480.6" stroke="#0000ff" stroke-width="2.4" fill="none" stroke-linejoin="round" stroke-linecap="butt" clip-path="url(#cpd)"/>
<path d="M396.5 429.5C397.1 429.0 398.5 427.3 400.1 426.5C401.7 425.7 403.3 424.6 406.1 424.7C408.9 424.8 413.4 426.9 416.7 427.3C420.0 427.7 422.8 426.9 425.8 427.3C428.8 427.7 431.6 428.6 434.9 429.5C438.2 430.4 441.7 431.6 445.5 432.6C449.3 433.6 454.1 434.9 457.6 435.6C461.1 436.4 463.7 436.7 466.7 437.1C469.7 437.5 472.8 437.9 475.8 438.2C478.8 438.5 481.9 438.9 484.9 439.1C487.9 439.3 490.6 439.2 494.0 439.3C497.4 439.4 500.8 439.7 505.2 439.7C509.6 439.7 516.0 439.4 520.3 439.1C524.6 438.8 527.4 438.5 530.9 437.9C534.4 437.2 538.7 435.5 541.5 435.2C544.3 434.9 545.6 435.1 547.6 435.9C549.6 436.6 551.3 438.5 553.6 439.7C555.9 440.9 558.7 442.4 561.2 443.0C563.7 443.6 566.0 443.3 568.8 443.2C571.6 443.1 574.4 442.4 577.9 442.1C581.4 441.9 585.9 441.8 590.0 441.7C594.1 441.6 597.2 441.5 602.6 441.3C608.0 441.1 616.7 440.6 622.1 440.6C627.5 440.6 630.0 441.3 635.2 441.3C640.4 441.3 650.4 440.7 653.4 440.6" stroke="#008080" stroke-width="2.4" fill="none" stroke-linejoin="round" stroke-linecap="butt" clip-path="url(#cpd)"/>
<path d="M396.5 410.9C397.1 410.3 398.6 408.4 400.1 407.6C401.6 406.9 403.6 406.3 405.4 406.4C407.2 406.5 408.7 407.5 410.7 408.3C412.7 409.1 415.0 411.1 417.5 411.4C420.0 411.7 423.2 410.1 425.8 410.3C428.4 410.6 430.9 412.1 433.4 412.9C435.9 413.6 438.2 414.4 441.0 414.8C443.8 415.2 446.8 415.1 450.1 415.6C453.4 416.1 457.2 417.7 460.7 417.9C464.2 418.1 468.0 417.1 471.3 417.0C474.6 416.9 477.6 417.8 480.4 417.4C483.2 417.0 485.4 415.5 487.9 414.4C490.4 413.3 493.2 410.5 495.3 410.9C497.4 411.3 498.7 414.3 500.6 416.7C502.5 419.1 504.7 423.0 506.7 425.0C508.7 427.0 509.9 428.4 512.7 428.8C515.5 429.2 519.5 427.9 523.3 427.3C527.1 426.8 532.0 426.1 535.5 425.5C539.0 424.9 541.7 424.1 544.5 423.5C547.3 422.9 549.8 423.3 552.1 422.0C554.4 420.7 556.2 418.1 558.2 415.9C560.2 413.7 562.6 410.2 564.2 408.8C565.8 407.4 566.7 406.7 568.0 407.4C569.3 408.1 570.4 410.0 571.8 412.9C573.2 415.8 574.8 421.1 576.2 424.5C577.6 427.9 579.0 431.5 580.4 433.5C581.8 435.5 582.8 436.2 584.3 436.3C585.8 436.4 587.3 435.3 589.5 434.1C591.7 432.9 594.1 429.7 597.4 429.3C600.7 428.9 605.0 431.5 609.1 431.5C613.2 431.5 618.2 429.5 622.1 429.3C626.0 429.1 629.0 430.3 632.5 430.2C636.0 430.1 639.5 428.5 643.0 428.6C646.5 428.7 651.7 430.4 653.4 430.8" stroke="#ff00ff" stroke-width="2.4" fill="none" stroke-linejoin="round" stroke-linecap="butt" clip-path="url(#cpd)"/>
<path d="M396.5 357.2C397.8 358.0 401.1 360.2 404.0 362.0C406.9 363.8 410.7 366.4 414.0 368.0C417.3 369.6 420.7 370.2 424.0 371.6C427.3 373.0 430.7 375.1 434.0 376.6C437.3 378.1 440.7 378.8 444.0 380.4C447.3 382.0 450.7 384.9 454.0 386.4C457.3 387.9 460.7 388.1 464.0 389.4C467.3 390.7 471.0 392.8 474.0 394.0C477.0 395.2 479.7 396.3 482.0 396.8C484.3 397.3 485.4 396.7 487.6 397.2C489.8 397.7 492.7 399.1 495.2 400.0C497.7 400.9 500.2 402.4 502.7 402.7C505.2 403.0 508.0 401.6 510.3 401.8C512.6 402.0 514.6 403.2 516.4 403.8C518.2 404.4 519.5 405.7 520.9 405.3C522.3 404.9 523.6 403.9 524.7 401.5C525.8 399.1 526.7 395.7 527.7 390.9C528.7 386.1 529.8 379.8 530.8 372.7C531.8 365.6 532.8 356.6 533.8 348.5C534.8 340.4 535.9 330.1 536.8 324.2C537.7 318.3 538.5 315.0 539.1 312.9C539.7 310.8 540.0 311.3 540.6 311.4C541.2 311.5 542.0 311.2 542.9 313.6C543.8 316.0 544.8 321.2 545.9 325.8C547.0 330.4 548.3 335.6 549.7 340.9C551.1 346.2 552.4 352.8 554.2 357.6C556.0 362.4 558.3 365.4 560.3 369.7C562.3 374.0 564.6 379.4 566.4 383.3C568.2 387.2 569.4 390.9 570.9 393.2C572.4 395.5 574.0 396.5 575.5 397.4C577.0 398.3 578.2 398.4 580.0 398.6C581.8 398.9 583.2 398.1 586.2 398.9C589.2 399.7 594.2 402.4 597.8 403.3C601.4 404.2 604.1 403.7 608.0 404.4C611.9 405.1 617.2 406.7 621.1 407.3C625.0 407.9 627.9 407.6 631.3 408.1C634.7 408.6 637.8 409.7 641.5 410.5C645.2 411.3 651.4 412.3 653.4 412.7" stroke="#808000" stroke-width="2.4" fill="none" stroke-linejoin="round" stroke-linecap="butt" clip-path="url(#cpd)"/>
<path d="M267.0 613.6C265.2 614.7 259.5 617.9 256.0 620.0C252.5 622.1 249.3 623.9 246.0 626.0C242.7 628.1 238.8 630.6 236.0 632.6C233.2 634.6 230.7 636.3 229.0 638.0C227.3 639.7 227.5 641.3 226.0 643.0C224.5 644.7 222.2 646.2 220.0 648.0C217.8 649.8 214.8 652.1 213.0 653.6C211.2 655.1 210.3 656.1 209.0 657.0C207.7 657.9 206.3 659.2 205.0 659.0C203.7 658.8 201.9 657.3 201.0 656.0C200.1 654.7 200.3 652.6 199.6 651.0C198.9 649.4 198.3 647.8 197.0 646.4C195.7 645.0 193.7 643.9 192.0 642.4C190.3 640.9 188.3 639.3 187.0 637.6C185.7 635.9 185.2 633.9 184.0 632.0C182.8 630.1 181.7 627.7 180.0 626.0C178.3 624.3 175.9 623.0 173.9 621.7C171.9 620.4 169.7 619.6 167.9 618.3C166.1 617.0 164.8 615.6 163.3 613.8C161.8 612.0 160.6 609.7 158.8 607.7C157.0 605.7 155.0 603.6 152.7 601.7C150.4 599.8 147.7 597.9 145.2 596.4C142.7 594.9 140.1 593.5 137.6 592.6C135.1 591.7 132.3 591.4 130.0 591.1C127.7 590.8 126.3 590.7 124.0 590.7C121.7 590.8 119.3 590.7 116.0 591.4C112.7 592.1 108.0 593.2 104.0 595.0C100.0 596.8 95.7 599.0 92.0 602.0C88.3 605.0 84.8 609.2 82.0 613.0C79.2 616.8 77.0 620.8 75.0 625.0C73.0 629.2 71.3 633.5 70.0 638.0C68.7 642.5 67.7 647.7 67.0 652.0C66.3 656.3 65.7 659.8 65.6 664.0C65.5 668.2 65.9 673.0 66.5 677.0C67.1 681.0 68.2 684.8 69.2 688.3C70.2 691.8 71.0 694.7 72.5 698.3C74.0 701.9 75.9 706.1 78.3 710.0C80.7 713.9 83.6 718.1 86.7 721.7C89.8 725.3 93.1 728.9 96.7 731.7C100.3 734.5 104.4 736.7 108.3 738.3C112.2 739.9 116.4 740.9 120.0 741.3C123.6 741.7 126.7 741.4 130.0 740.8C133.3 740.2 136.9 739.3 140.0 737.5C143.1 735.7 146.1 732.8 148.3 730.0C150.5 727.2 152.4 723.1 153.3 720.8C154.2 718.5 153.9 717.6 154.0 716.0C154.1 714.4 153.8 712.5 153.6 711.3C153.4 710.1 153.1 708.9 152.6 708.6C152.1 708.3 151.5 709.4 150.8 709.6C150.1 709.8 149.2 709.9 148.5 709.6C147.8 709.3 147.0 708.5 146.8 707.8C146.6 707.1 146.8 706.0 147.2 705.4C147.6 704.8 148.6 704.5 149.3 704.4C150.0 704.3 150.8 705.0 151.5 705.0C152.2 705.0 152.7 704.5 153.5 704.5C154.3 704.5 155.6 705.0 156.5 704.9C157.4 704.8 158.1 704.2 158.7 703.6C159.2 703.0 159.7 702.2 159.8 701.5C160.0 700.8 159.4 700.0 159.6 699.5C159.8 699.0 160.5 698.7 161.0 698.2C161.5 697.7 161.9 697.3 162.5 696.7C163.1 696.1 164.2 695.3 164.7 694.5C165.2 693.7 165.5 692.8 165.5 692.0C165.5 691.2 165.2 690.3 164.7 689.8C164.1 689.3 162.7 689.3 162.2 689.1C161.7 688.9 161.6 689.0 161.8 688.7C162.0 688.5 162.9 688.1 163.3 687.6C163.7 687.1 164.2 686.4 164.4 685.5C164.6 684.6 164.7 683.5 164.5 682.5C164.3 681.5 163.9 680.4 163.3 679.6C162.7 678.8 161.7 678.2 160.7 677.8C159.7 677.3 158.5 676.9 157.5 676.9C156.5 676.9 155.0 677.4 154.5 677.5" stroke="#00ff00" stroke-width="2.4" fill="none" stroke-linejoin="round" stroke-linecap="butt" clip-path="url(#cpe)"/>
<path d="M396.5 745.0C397.1 743.8 398.8 742.2 400.0 738.0C401.2 733.8 402.7 725.5 404.0 720.0C405.3 714.5 406.8 707.9 408.0 705.0C409.2 702.1 410.0 702.2 411.0 702.4C412.0 702.6 412.8 703.7 414.0 706.0C415.2 708.3 416.5 713.0 418.0 716.0C419.5 719.0 421.0 722.2 423.0 724.0C425.0 725.8 427.8 726.3 430.0 727.0C432.2 727.7 433.7 727.4 436.0 728.4C438.3 729.4 442.3 732.2 443.6 733.0" stroke="#00ff00" stroke-width="2.4" fill="none" stroke-linejoin="round" stroke-linecap="butt" clip-path="url(#cpf)"/>
<path d="M444.4 696.0C444.7 696.3 444.7 696.7 446.0 698.0C447.3 699.3 449.7 702.2 452.0 704.0C454.3 705.8 457.7 707.3 460.0 709.0C462.3 710.7 463.7 711.8 466.0 714.0C468.3 716.2 471.3 719.8 474.0 722.0C476.7 724.2 479.7 725.3 482.0 727.0C484.3 728.7 486.0 729.7 488.0 732.0C490.0 734.3 492.3 738.7 494.0 741.0C495.7 743.3 496.7 745.3 498.0 745.6C499.3 745.9 500.7 745.6 502.0 743.0C503.3 740.4 504.7 735.2 506.0 730.0C507.3 724.8 508.7 716.6 510.0 712.0C511.3 707.4 512.8 703.8 514.0 702.4C515.2 701.0 516.2 702.7 517.0 703.6C517.8 704.5 518.6 705.3 519.0 708.0C519.4 710.7 519.3 718.0 519.4 720.0" stroke="#00ff00" stroke-width="2.4" fill="none" stroke-linejoin="round" stroke-linecap="butt" clip-path="url(#cpf)"/>
<path d="M519.6 731.5C520.0 732.1 520.9 733.6 522.0 735.0C523.1 736.4 524.7 738.0 526.2 739.8C527.8 741.5 529.6 745.5 531.3 745.5C533.0 745.5 535.0 743.8 536.5 739.8C538.0 735.8 539.2 726.9 540.6 721.2C542.0 715.5 543.5 708.9 544.7 705.8C545.9 702.6 546.6 702.1 547.8 702.3C549.0 702.5 550.3 704.2 551.9 706.8C553.5 709.4 555.2 715.0 557.1 718.1C559.0 721.2 561.2 723.7 563.3 725.3C565.4 726.9 567.5 726.9 569.5 727.8C571.5 728.7 573.2 729.4 575.6 730.5C578.0 731.6 580.8 733.6 583.9 734.6C587.0 735.6 590.4 736.0 594.2 736.7C598.0 737.5 602.7 738.5 606.5 739.1C610.3 739.7 613.0 739.6 616.8 740.2C620.6 740.8 625.4 742.2 629.2 742.8C633.0 743.4 635.5 743.4 639.5 743.9C643.5 744.4 651.2 745.6 653.5 746.0" stroke="#00ff00" stroke-width="2.4" fill="none" stroke-linejoin="round" stroke-linecap="butt" clip-path="url(#cpf)"/>
<path d="M443.6 733L444.4 696M519.4 720L519.6 731.5" stroke="#00ff00" stroke-width="2.4" fill="none"/>
<path d="M235.2 16.1H256.7" stroke="#000000" stroke-width="2.4"/>
<text x="258.6" y="19.41" class="lg" style="font-size:9.2px">pure EVA</text>
<path d="M235.2 27H256.7" stroke="#ff0000" stroke-width="2.4"/>
<text x="258.6" y="30.31" class="lg" style="font-size:9.2px">2 : 0.2</text>
<path d="M235.2 38.1H256.7" stroke="#0000ff" stroke-width="2.4"/>
<text x="258.6" y="41.41" class="lg" style="font-size:9.2px">2 : 0.6</text>
<path d="M235.2 49.5H256.7" stroke="#008080" stroke-width="2.4"/>
<text x="258.6" y="52.81" class="lg" style="font-size:9.2px">2 : 1</text>
<path d="M235.2 60.6H256.7" stroke="#ff00ff" stroke-width="2.4"/>
<text x="258.6" y="63.91" class="lg" style="font-size:9.2px">2 : 1.4</text>
<path d="M235.2 71.6H256.7" stroke="#808000" stroke-width="2.4"/>
<text x="258.6" y="74.91" class="lg" style="font-size:9.2px">2 : 1.8</text>
<path d="M577.9 22.5H599.7" stroke="#000000" stroke-width="2.4"/>
<text x="601.6" y="25.81" class="lg" style="font-size:9.2px">pure EVA</text>
<path d="M577.9 34H599.7" stroke="#ff0000" stroke-width="2.4"/>
<text x="601.6" y="37.31" class="lg" style="font-size:9.2px">2 : 0.2</text>
<path d="M577.9 45.2H599.7" stroke="#0000ff" stroke-width="2.4"/>
<text x="601.6" y="48.51" class="lg" style="font-size:9.2px">2 : 0.6</text>
<path d="M577.9 56.1H599.7" stroke="#008080" stroke-width="2.4"/>
<text x="601.6" y="59.41" class="lg" style="font-size:9.2px">2 : 1</text>
<path d="M577.9 67.3H599.7" stroke="#ff00ff" stroke-width="2.4"/>
<text x="601.6" y="70.61" class="lg" style="font-size:9.2px">2 : 1.4</text>
<path d="M577.9 78.7H599.7" stroke="#808000" stroke-width="2.4"/>
<text x="601.6" y="82.01" class="lg" style="font-size:9.2px">2 : 1.8</text>
<path d="M228.7 305.6H247.9" stroke="#000000" stroke-width="2.4"/>
<text x="248.9" y="308.52" class="lg" style="font-size:8.1px">pure EVA</text>
<path d="M228.7 315H247.9" stroke="#ff0000" stroke-width="2.4"/>
<text x="248.9" y="317.92" class="lg" style="font-size:8.1px">2 : 0.2</text>
<path d="M228.7 324.4H247.9" stroke="#0000ff" stroke-width="2.4"/>
<text x="248.9" y="327.32" class="lg" style="font-size:8.1px">2 : 0.6</text>
<path d="M228.7 334H247.9" stroke="#008080" stroke-width="2.4"/>
<text x="248.9" y="336.92" class="lg" style="font-size:8.1px">2 : 1</text>
<path d="M228.7 343.8H247.9" stroke="#ff00ff" stroke-width="2.4"/>
<text x="248.9" y="346.72" class="lg" style="font-size:8.1px">2 : 1.4</text>
<path d="M228.7 353.4H247.9" stroke="#808000" stroke-width="2.4"/>
<text x="248.9" y="356.32" class="lg" style="font-size:8.1px">2 : 1.8</text>
<path d="M578.9 312H603.4" stroke="#000000" stroke-width="2.4"/>
<text x="605.5" y="315.74" class="lg" style="font-size:10.4px">pure EVA</text>
<path d="M578.9 324.6H603.4" stroke="#ff0000" stroke-width="2.4"/>
<text x="605.5" y="328.34" class="lg" style="font-size:10.4px">2 : 0.2</text>
<path d="M578.9 337.1H603.4" stroke="#0000ff" stroke-width="2.4"/>
<text x="605.5" y="340.84" class="lg" style="font-size:10.4px">2 : 0.6</text>
<path d="M578.9 349.8H603.4" stroke="#008080" stroke-width="2.4"/>
<text x="605.5" y="353.54" class="lg" style="font-size:10.4px">2 : 1</text>
<path d="M578.9 362.5H603.4" stroke="#ff00ff" stroke-width="2.4"/>
<text x="605.5" y="366.24" class="lg" style="font-size:10.4px">2 : 1.4</text>
<path d="M578.9 375H603.4" stroke="#808000" stroke-width="2.4"/>
<text x="605.5" y="378.74" class="lg" style="font-size:10.4px">2 : 1.8</text>
<path d="M239.8 750.9H261.8" stroke="#00ff00" stroke-width="2.4"/>
<text x="265.8" y="754.10" class="lg" style="font-size:8.9px">2 : 1</text>
<path d="M598 597H620.2" stroke="#00ff00" stroke-width="2.4"/>
<text x="623.9" y="600.20" class="lg" style="font-size:8.9px">2 : 1</text>
<text transform="translate(11.6 106.5) rotate(-90)" text-anchor="middle" class="yl" style="font-size:15px">ε′</text>
<text transform="translate(367.4 106.5) rotate(-90)" text-anchor="middle" class="yl" style="font-size:15px">ε″</text>
<text transform="translate(11.9 396.2) rotate(-90)" text-anchor="middle" class="yl" style="font-size:15px">μ′</text>
<text transform="translate(364.2 396.2) rotate(-90)" text-anchor="middle" class="yl" style="font-size:15px">μ″</text>
<text transform="translate(11.8 673) rotate(-90)" text-anchor="middle" class="yl" style="font-size:15px">ε″</text>
<text x="168.5" y="803.4" text-anchor="middle" class="yl" style="font-size:15px">ε′</text>
<text transform="translate(344.7 682.6) rotate(-90)" text-anchor="middle" class="yl" style="font-size:14.6px;letter-spacing:0.35px">(μ″)<tspan style="font-size:19px" dy="1">•</tspan><tspan dy="-1">(μ′)</tspan><tspan dy="-5.5" style="font-size:9.5px">-2</tspan><tspan dy="6.5" style="font-size:19px">•</tspan><tspan dy="-1" style="font-style:italic;font-size:16px">f</tspan><tspan dy="-5.5" style="font-size:9.5px">-1</tspan></text>
<path d="M98 643.6L72.12 650.68" stroke="#000" stroke-width="1"/>
<path d="M67.3 652L71.54 648.56L72.70 652.80Z" fill="#000"/>
<text x="100.6" y="646" class="an" style="font-size:12px">3<tspan dy="-4.8" style="font-size:7.7px">th</tspan></text>
<path d="M138.2 675.3L155.64 685.06" stroke="#000" stroke-width="1"/>
<path d="M160 687.5L154.56 686.98L156.71 683.14Z" fill="#000"/>
<text x="129.6" y="673.6" class="an" style="font-size:12px">1<tspan dy="-4.8" style="font-size:7.7px">th</tspan></text>
<path d="M124.2 723.7L134.88 733.26" stroke="#000" stroke-width="1"/>
<path d="M138.6 736.6L133.41 734.90L136.34 731.63Z" fill="#000"/>
<text x="116" y="720.8" class="an" style="font-size:12px">2<tspan dy="-4.8" style="font-size:7.7px">th</tspan></text>
<path d="M255 661L233.33 642.81" stroke="#000" stroke-width="1"/>
<path d="M229.5 639.6L234.74 641.13L231.92 644.50Z" fill="#000"/>
<text x="254.6" y="670" class="an" style="font-size:12px">4<tspan dy="-4.8" style="font-size:7.7px">th</tspan></text>
</svg></body></html>
